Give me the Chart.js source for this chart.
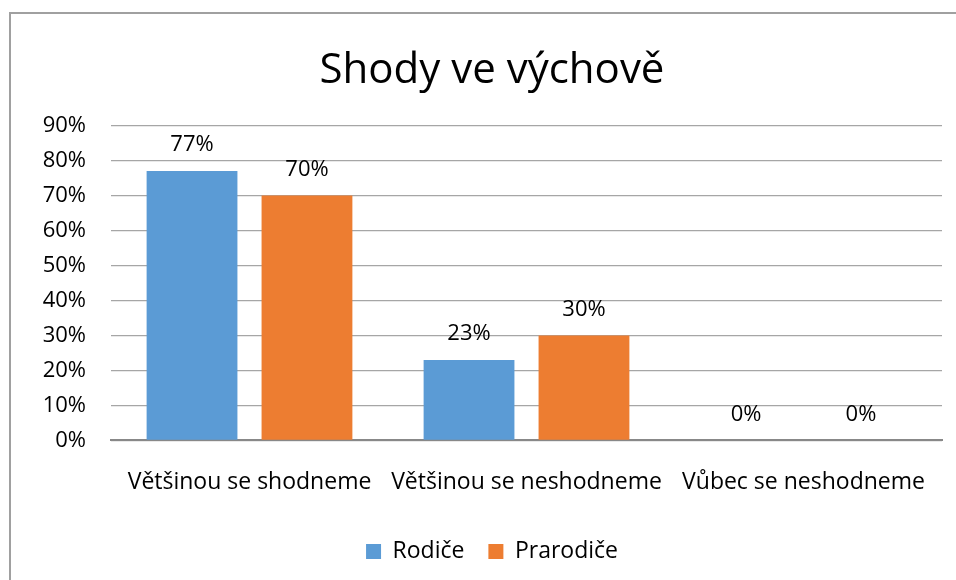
<!DOCTYPE html>
<html>
<head>
<meta charset="utf-8">
<script src="https://cdn.jsdelivr.net/npm/chart.js@4"></script>
<style>
  html, body { margin: 0; padding: 0; background: #fff; overflow: hidden; }
  #frame {
    position: absolute; left: 9px; top: 12px; width: 980px; height: 600px;
    border-left: 2px solid #a0a0a0; border-top: 2px solid #a0a0a0;
  }
  #wrap { position: absolute; left: 11px; top: 14px; width: 960px; height: 566px; }
</style>
</head>
<body>
<div id="frame"></div>
<div id="wrap"><canvas id="chart"></canvas></div>
<script>
// Kategorie a hodnoty
const kategorie = ['Většinou se shodneme', 'Většinou se neshodneme', 'Vůbec se neshodneme'];
const rodice = [0.77, 0.23, 0];
const prarodice = [0.70, 0.30, 0];
const yTicks = [0, 0.1, 0.2, 0.3, 0.4, 0.5, 0.6, 0.7, 0.8, 0.9];

const pct = v => Math.round(v * 100) + '%';
const pismo = '"Open Sans"';

// popisky nad sloupci
const popisky = {
  id: 'popisky',
  afterDatasetsDraw(chart) {
    const ctx = chart.ctx;
    ctx.save();
    ctx.font = '22px ' + pismo;
    ctx.fillStyle = '#000';
    ctx.textAlign = 'center';
    ctx.textBaseline = 'middle';
    chart.data.datasets.forEach((ds, i) => {
      chart.getDatasetMeta(i).data.forEach((bar, j) => {
        ctx.fillText(pct(ds.data[j]), bar.x, bar.y - 26);
      });
    });
    ctx.restore();
  }
};

new Chart(document.getElementById('chart'), {
  type: 'bar',
  data: {
    labels: kategorie,
    datasets: [{
      label: 'Rodiče',
      data: rodice,
      backgroundColor: '#5B9BD5'
    }, {
      label: 'Prarodiče',
      data: prarodice,
      backgroundColor: '#ED7D31'
    }]
  },
  options: {
    responsive: true,
    maintainAspectRatio: false,
    animation: false,
    categoryPercentage: 0.83,
    barPercentage: 0.79,
    layout: { padding: { left: 31, right: 29, top: 0, bottom: 7 } },
    plugins: {
      tooltip: { enabled: false },
      title: {
        display: true,
        text: 'Shody ve výchově',
        color: '#000',
        font: { family: pismo, size: 42, weight: 'normal' },
        padding: { top: 32, bottom: 29 }
      },
      legend: {
        position: 'bottom',
        labels: {
          color: '#000',
          font: { family: pismo, size: 23 },
          boxWidth: 15,
          boxHeight: 15,
          padding: 24
        }
      }
    },
    scales: {
      x: {
        grid: { display: false },
        border: { color: '#888', width: 2 },
        ticks: { color: '#000', font: { family: pismo, size: 23 }, padding: 20, maxRotation: 0 }
      },
      y: {
        min: 0,
        max: 0.9,
        afterBuildTicks: axis => { axis.ticks = yTicks.map(v => ({ value: v })); },
        afterFit: axis => { axis.width = 69; },
        grid: { color: '#a6a6a6', lineWidth: 1.3, drawTicks: false },
        border: { display: false },
        ticks: {
          color: '#000',
          font: { family: pismo, size: 22 },
          padding: 25,
          callback: v => pct(v)
        }
      }
    }
  },
  plugins: [popisky]
});
</script>
</body>
</html>
